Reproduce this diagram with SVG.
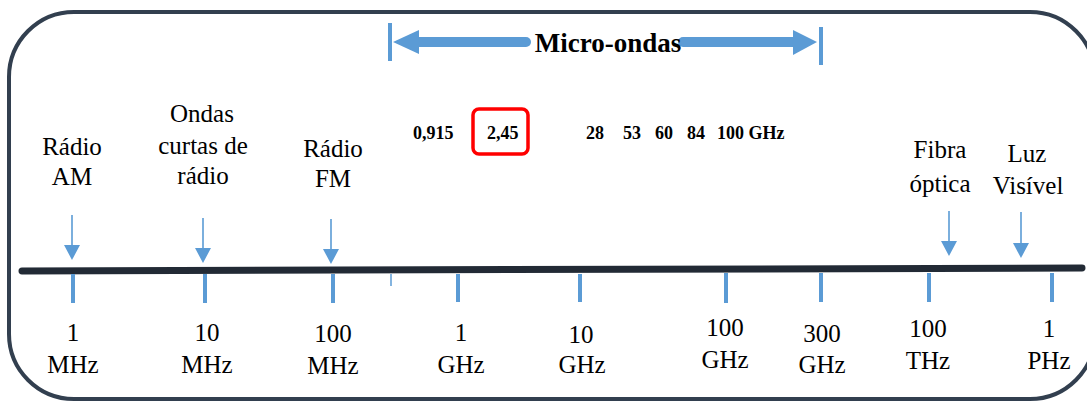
<svg xmlns="http://www.w3.org/2000/svg" width="1087" height="401" viewBox="0 0 1087 401">
<style>
text{font-family:"Liberation Serif","Times New Roman",Tinos,"DejaVu Serif",serif}
.lbl{font-size:25px;fill:#000;text-anchor:middle}
.num{font-size:18px;font-weight:bold;fill:#000}
.tick{stroke:#5b9bd5;stroke-width:4}
.ptr{stroke:#5b9bd5;stroke-width:1.6;fill:none}
.head{fill:#5b9bd5}
</style>
<rect id="frame" x="9" y="12" width="1086" height="387" rx="65" ry="65" fill="#fff" stroke="#323f4f" stroke-width="4"/>
<g id="axis">
<line x1="22" y1="271" x2="1082" y2="268" stroke="#222a35" stroke-width="7" stroke-linecap="round"/>
<line class="tick" x1="73" y1="274" x2="73" y2="303"/>
<line class="tick" x1="205" y1="274" x2="205" y2="303"/>
<line class="tick" x1="333" y1="274" x2="333" y2="303"/>
<line x1="391" y1="274" x2="391" y2="286" stroke="#5b9bd5" stroke-width="1.5"/>
<line class="tick" x1="458" y1="274" x2="458" y2="302"/>
<line class="tick" x1="580" y1="274" x2="580" y2="302"/>
<line class="tick" x1="726" y1="273" x2="726" y2="303"/>
<line class="tick" x1="821" y1="273" x2="821" y2="302"/>
<line class="tick" x1="929" y1="273" x2="929" y2="302"/>
<line class="tick" x1="1052" y1="273" x2="1052" y2="302"/>
</g>
<g id="connectors">
<line class="ptr" x1="72" y1="215" x2="72" y2="247"/><polygon class="head" points="64,245 80,245 72,260"/>
<line class="ptr" x1="203" y1="218" x2="203" y2="250"/><polygon class="head" points="195,248 211,248 203,263"/>
<line class="ptr" x1="331" y1="219" x2="331" y2="251"/><polygon class="head" points="323,249 339,249 331,264"/>
<line class="ptr" x1="949" y1="211" x2="949" y2="243"/><polygon class="head" points="941,241 957,241 949,256"/>
<line class="ptr" x1="1021" y1="212" x2="1021" y2="245"/><polygon class="head" points="1013,243 1029,243 1021,258"/>
</g>
<g id="microondas">
<line x1="390" y1="23" x2="390" y2="61" stroke="#5b9bd5" stroke-width="4"/>
<line x1="821" y1="27" x2="821" y2="65" stroke="#5b9bd5" stroke-width="4"/>
<line x1="418" y1="42" x2="526" y2="42" stroke="#5b9bd5" stroke-width="10" stroke-linecap="round"/>
<polygon points="393,42 419,30 419,54" fill="#5b9bd5"/>
<line x1="683" y1="42" x2="794" y2="42" stroke="#5b9bd5" stroke-width="10" stroke-linecap="round"/>
<polygon points="817,42 793,30 793,55" fill="#5b9bd5"/>
<text x="608" y="52" font-size="27" font-weight="bold" text-anchor="middle">Micro-ondas</text>
</g>
<g id="bands">
<text class="num" x="413" y="139">0,915</text>
<rect x="473" y="109" width="55" height="45" rx="6" fill="none" stroke="#ff0000" stroke-width="3.5"/>
<text class="num" x="487" y="139">2,45</text>
<text class="num" x="586" y="139">28</text>
<text class="num" x="623" y="139">53</text>
<text class="num" x="655" y="139">60</text>
<text class="num" x="687" y="139">84</text>
<text class="num" x="717" y="139">100 GHz</text>
</g>
<g id="radio-am"><text class="lbl" x="72" y="155">Rádio</text><text class="lbl" x="72" y="185">AM</text></g>
<g id="ondas-curtas"><text class="lbl" x="202" y="122">Ondas</text><text class="lbl" x="203" y="154">curtas de</text><text class="lbl" x="203" y="184">rádio</text></g>
<g id="radio-fm"><text class="lbl" x="333" y="157">Rádio</text><text class="lbl" x="333" y="187">FM</text></g>
<g id="fibra"><text class="lbl" x="940" y="158">Fibra</text><text class="lbl" x="940" y="192">óptica</text></g>
<g id="luz"><text class="lbl" x="1027" y="162">Luz</text><text class="lbl" x="1028" y="194">Visível</text></g>
<g id="freq-labels">
<text class="lbl" x="73" y="341">1</text><text class="lbl" x="73" y="373">MHz</text>
<text class="lbl" x="207" y="341">10</text><text class="lbl" x="207" y="373">MHz</text>
<text class="lbl" x="333" y="342">100</text><text class="lbl" x="333" y="374">MHz</text>
<text class="lbl" x="461" y="341">1</text><text class="lbl" x="461" y="373">GHz</text>
<text class="lbl" x="581" y="343">10</text><text class="lbl" x="582" y="373">GHz</text>
<text class="lbl" x="725" y="336">100</text><text class="lbl" x="725" y="368">GHz</text>
<text class="lbl" x="822" y="342">300</text><text class="lbl" x="822" y="373">GHz</text>
<text class="lbl" x="928" y="337">100</text><text class="lbl" x="928" y="369">THz</text>
<text class="lbl" x="1049" y="337">1</text><text class="lbl" x="1049" y="369">PHz</text>
</g>
</svg>
